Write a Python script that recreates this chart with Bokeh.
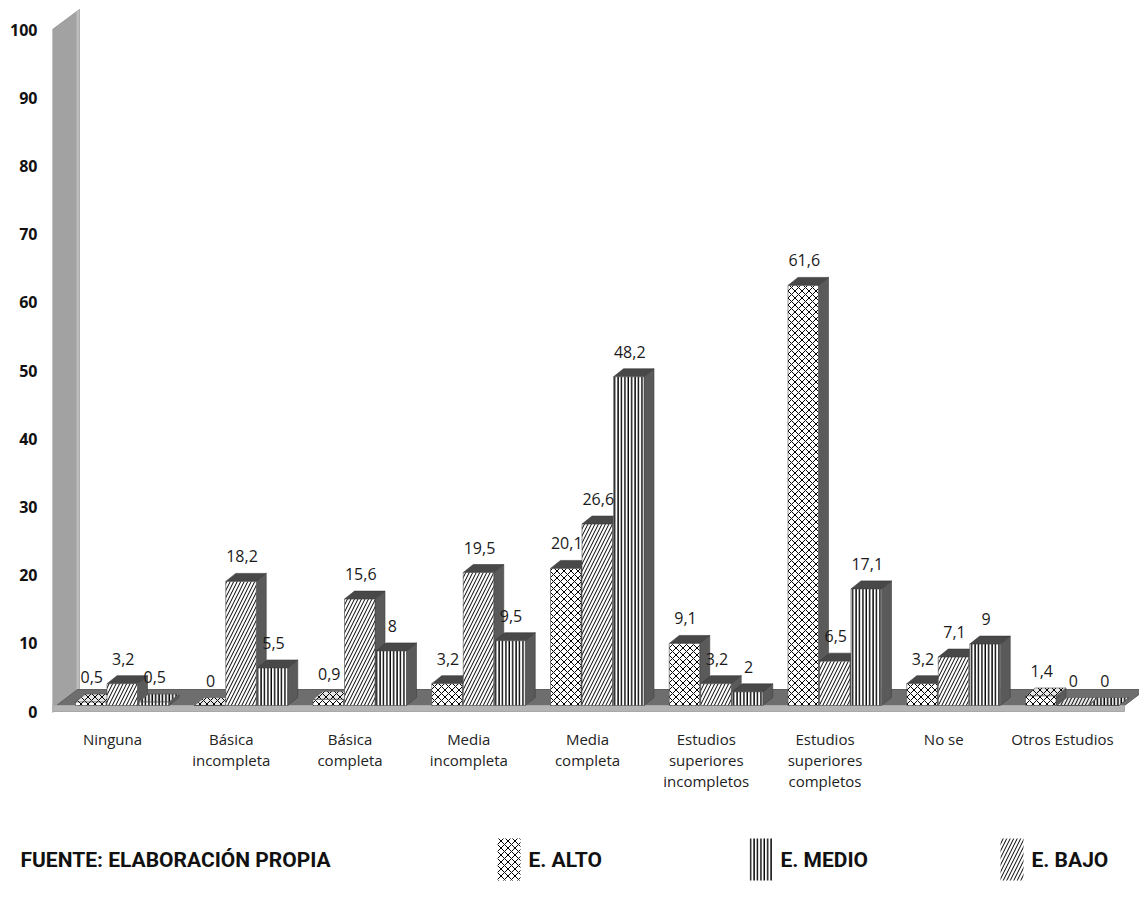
from bokeh.plotting import figure
from bokeh.layouts import column
from bokeh.models import Range1d, LinearAxis, FixedTicker
from bokeh.embed import file_html
from bokeh.resources import INLINE
from bokeh.core.properties import value

# ---- data -------------------------------------------------------------
categories = [
    "Ninguna",
    "Básica\nincompleta",
    "Básica\ncompleta",
    "Media\nincompleta",
    "Media\ncompleta",
    "Estudios\nsuperiores\nincompletos",
    "Estudios\nsuperiores\ncompletos",
    "No se",
    "Otros Estudios",
]
e_alto = [0.5, 0, 0.9, 3.2, 20.1, 9.1, 61.6, 3.2, 1.4]
e_bajo = [3.2, 18.2, 15.6, 19.5, 26.6, 3.2, 6.5, 7.1, 0]
e_medio = [0.5, 5.5, 8, 9.5, 48.2, 2, 17.1, 9, 0]
y_ticks = list(range(0, 101, 10))
legend_labels = ["E. ALTO", "E. MEDIO", "E. BAJO"]
source_note = "FUENTE: ELABORACIÓN PROPIA"

# ---- page geometry (pixels) --------------------------------------------
W = 1139
CHART_H = 830        # chart panel; the legend strip sits below it
LEGEND_H = 69
LEFT = 52            # left border holding the value axis
ORIGIN_X = 112       # pixel centre of the first category
ORIGIN_Y = 705       # pixel row of value 0 on the bars' front plane
CAT_PX = 118.75      # pixels per category
VAL_PX = 6.82        # pixels per percentage point
AXIS_SHIFT = 6       # tick labels sit a little lower than the bar plane


def px_x(px):
    return (px - ORIGIN_X) / CAT_PX


def px_y(py):
    return (ORIGIN_Y - py) / VAL_PX


def wx(px):
    return px / CAT_PX


def hy(px):
    return px / VAL_PX


p = figure(
    width=W, height=CHART_H,
    x_range=Range1d(px_x(LEFT), px_x(W)),
    y_range=Range1d(px_y(CHART_H), px_y(0)),
    x_axis_location=None, y_axis_location=None,
    toolbar_location=None, output_backend="svg",
    min_border_left=LEFT, min_border_right=0,
    min_border_top=0, min_border_bottom=0,
    outline_line_color=None,
    background_fill_color="white", border_fill_color="white",
)
p.grid.visible = False
p.frame_align = False

# value axis on its own range, a few pixels below the bar plane
p.extra_y_ranges = {"ticks": Range1d(px_y(CHART_H) + hy(AXIS_SHIFT), px_y(0) + hy(AXIS_SHIFT))}
yax = LinearAxis(
    y_range_name="ticks",
    ticker=FixedTicker(ticks=y_ticks),
    axis_line_color=None,
    major_tick_line_color=None,
    minor_tick_line_color=None,
    major_label_standoff=9,
    major_label_text_font="Noto Sans",
    major_label_text_font_style="bold",
    major_label_text_font_size="16px",
    major_label_text_color="#111111",
)
p.add_layout(yax, "left")

# ---- 3D wall and floor ---------------------------------------------------
DEPTH_PX_Y = 16
wall_l = px_x(LEFT)
wall_r = wall_l + wx(27)
wall_top = max(y_ticks) - hy(AXIS_SHIFT)
p.patch([wall_l, wall_l, wall_r, wall_r],
        [-hy(7), wall_top, wall_top + hy(20), hy(DEPTH_PX_Y)],
        fill_color="#a2a2a2", line_color="#9a9a9a", line_width=1)
p.patch([wall_r - wx(3), wall_r - wx(3), wall_r, wall_r],
        [hy(DEPTH_PX_Y), wall_top + hy(18), wall_top + hy(20), hy(DEPTH_PX_Y)],
        fill_color="#bdbdbd", line_color=None)

floor_front_r = px_x(1124)
p.patch([px_x(56), px_x(56) + wx(21), floor_front_r + wx(21), floor_front_r],
        [0, hy(DEPTH_PX_Y), hy(DEPTH_PX_Y), 0],
        fill_color="#6e6e6e", line_color="#5f5f5f", line_width=1)
p.patch([px_x(LEFT), floor_front_r, floor_front_r, px_x(LEFT)],
        [0, 0, -hy(6), -hy(6)],
        fill_color="#b4b4b4", line_color="#a8a8a8", line_width=1)

# ---- bars ------------------------------------------------------------------
BAR_W = wx(30.5)
BAR_STEP = wx(31.5)
FIRST = wx(-37)
DX, DY = wx(10), hy(8)

series = [
    (e_alto, dict(hatch_pattern="diagonal_cross", hatch_scale=7, hatch_weight=1.0)),
    (e_bajo, dict(hatch_pattern="right_diagonal_line", hatch_scale=7, hatch_weight=1.0)),
    (e_medio, dict(hatch_pattern="vertical_line", hatch_scale=3.4, hatch_weight=1.4)),
]

label_x, label_y, label_t = [], [], []
for k, (vals, hatch) in enumerate(series):
    lefts = [i + FIRST + k * BAR_STEP for i in range(len(vals))]
    rights = [l + BAR_W for l in lefts]

    side_xs = [[r, r, r + DX, r + DX] for r in rights]
    side_ys = [[0, v, v + DY, DY] for v in vals]
    p.patches(side_xs, side_ys, fill_color="#5a5a5a", line_color="#3f3f3f", line_width=0.6)

    big = [i for i, v in enumerate(vals) if v >= 1.5]
    small = [i for i, v in enumerate(vals) if v < 1.5]
    top_xs = [[lefts[i], rights[i], rights[i] + DX, lefts[i] + DX] for i in range(len(vals))]
    top_ys = [[v, v, v + DY, v + DY] for v in vals]
    if big:
        p.patches([top_xs[i] for i in big], [top_ys[i] for i in big],
                  fill_color="#484848", line_color="#383838", line_width=0.6)
    if small:
        p.patches([top_xs[i] for i in small], [top_ys[i] for i in small],
                  fill_color="#e6e6e6", line_color="#555555", line_width=0.6,
                  hatch_color="black", **hatch)

    p.quad(left=lefts, right=rights, bottom=0, top=vals,
           fill_color="white", line_color="#4a4a4a", line_width=0.6,
           hatch_color="black", **hatch)

    for l, r, v in zip(lefts, rights, vals):
        label_x.append((l + r) / 2 + wx(1))
        label_y.append(v + hy(25))
        label_t.append(f"{v:g}".replace(".", ","))

p.text(x=label_x, y=label_y, text=label_t,
       text_font=value("Open Sans"), text_font_size="16px",
       text_color="#1a1a1a", text_align="center", text_baseline="middle")

# ---- category labels ---------------------------------------------------------
p.text(x=list(range(len(categories))), y=[-hy(23)] * len(categories), text=categories,
       text_font=value("Open Sans"), text_font_size="15px", text_color="#222222",
       text_align="center", text_baseline="top", text_line_height=1.05)

# ---- legend strip and source note ----------------------------------------------
leg = figure(
    width=W, height=LEGEND_H,
    x_range=Range1d(0, W), y_range=Range1d(CHART_H + LEGEND_H, CHART_H),
    x_axis_location=None, y_axis_location=None,
    toolbar_location=None, output_backend="svg",
    min_border_left=0, min_border_right=0, min_border_top=0, min_border_bottom=0,
    outline_line_color=None,
    background_fill_color="white", border_fill_color="white",
)
leg.grid.visible = False
leg.frame_align = False

legend_left = [497, 749, 1000]
legend_hatch = [series[0][1], series[2][1], series[1][1]]
for lx, hatch in zip(legend_left, legend_hatch):
    leg.quad(left=[lx], right=[lx + 23], top=[838], bottom=[880],
             fill_color="white", line_color=None, hatch_color="black", **hatch)
leg.text(x=[x + 31 for x in legend_left] + [20], y=[859] * 4,
         text=legend_labels + [source_note],
         text_font=value("Roboto"), text_font_style="bold",
         text_font_size="21px", text_color="#111111",
         text_align="left", text_baseline="middle")

open("out.html", "w").write(file_html(column(p, leg, spacing=0), INLINE))
